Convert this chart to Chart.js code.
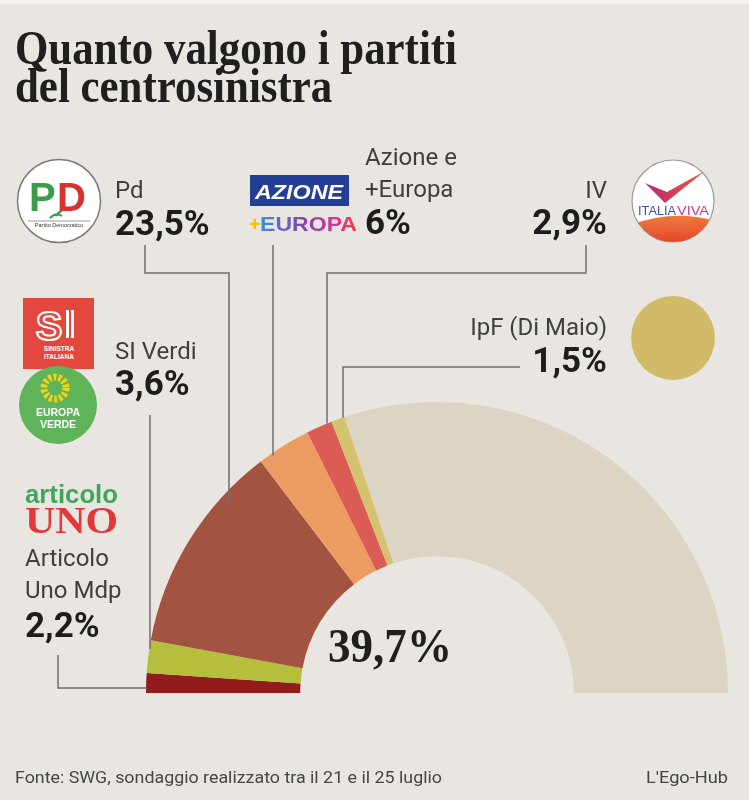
<!DOCTYPE html>
<html lang="it">
<head>
<meta charset="utf-8">
<title>Quanto valgono i partiti del centrosinistra</title>
<script src="https://cdn.jsdelivr.net/npm/chart.js@4.4.1/dist/chart.umd.min.js"></script>
<style>
  html, body { margin: 0; padding: 0; }
  body {
    width: 749px; height: 800px; position: relative; overflow: hidden;
    background: #e9e6e1; font-family: Roboto, "Liberation Sans", sans-serif; color: #3d3d3d;
  }
  #chart { position: absolute; left: 0; top: 0; }
  .topband { position: absolute; left: 0; top: 0; width: 749px; height: 4px; background: #f3f2ef; }
  .fit { position: absolute; white-space: nowrap; transform-origin: left top; }
  .title { font-family: "Liberation Serif", "DejaVu Serif", serif; font-weight: bold; font-size: 48px; line-height: 38px; color: #1f1f1f; }
  .name { position: absolute; font-size: 24px; line-height: 24px; color: #3f3f3f; white-space: nowrap; }
  .pct { position: absolute; font-size: 35px; line-height: 35px; font-weight: bold; color: #1d1d1d; white-space: nowrap; }
  .total { font-family: "Liberation Serif", serif; font-weight: bold; font-size: 49px; line-height: 49px; color: #1f1f1f; }
  .foot { font-size: 16px; line-height: 16px; color: #454545; }
  .logo { position: absolute; }
</style>
</head>
<body>
<div class="topband"></div>
<canvas id="chart" width="749" height="800"></canvas>

<div id="title" class="fit title">Quanto valgono i partiti<br>del centrosinistra</div>
<div id="total" class="fit total"></div>
<div id="source" class="fit foot">Fonte: SWG, sondaggio realizzato tra il 21 e il 25 luglio</div>
<div id="credit" class="fit foot">L'Ego-Hub</div>

<!-- loghi dei partiti -->
<svg class="logo" style="left:16px;top:158px" width="86" height="86" viewBox="0 0 86 86">
  <circle cx="43" cy="43" r="41.5" fill="#fff" stroke="#7a7a7a" stroke-width="1.5"/>
  <text x="13" y="53" font-family="Liberation Sans, sans-serif" font-weight="bold" font-size="40" fill="#3a9c48">P</text>
  <text x="41" y="53" font-family="Liberation Sans, sans-serif" font-weight="bold" font-size="40" fill="#d8322d">D</text>
  <path d="M34 60 q6 -6 12 -2 M40 58 q2 -4 6 -5" stroke="#3a9c48" stroke-width="2" fill="none"/>
  <line x1="12" y1="63" x2="74" y2="63" stroke="#555" stroke-width="0.6"/>
  <text x="43" y="69" text-anchor="middle" font-family="Liberation Sans, sans-serif" font-size="5.5" fill="#333">Partito Democratico</text>
</svg>

<svg class="logo" style="left:249px;top:174px" width="112" height="60" viewBox="0 0 112 60">
  <defs>
    <linearGradient id="eu" x1="0" x2="1" y1="0" y2="0">
      <stop offset="0" stop-color="#3c8fd6"/>
      <stop offset="0.45" stop-color="#8a3fb3"/>
      <stop offset="0.8" stop-color="#e0348c"/>
      <stop offset="1" stop-color="#ef3e3e"/>
    </linearGradient>
  </defs>
  <rect x="1" y="1" width="99" height="31" fill="#233f95"/>
  <text x="50" y="25" text-anchor="middle" font-family="Liberation Sans, sans-serif" font-style="italic" font-weight="bold" font-size="21" fill="#fff" textLength="88" lengthAdjust="spacingAndGlyphs">AZIONE</text>
  <text x="0" y="57" font-family="Liberation Sans, sans-serif" font-weight="bold" font-size="20" fill="#f3c300">+</text>
  <text x="11" y="57" font-family="Liberation Sans, sans-serif" font-weight="bold" font-size="20" fill="url(#eu)" textLength="97" lengthAdjust="spacingAndGlyphs">EUROPA</text>
</svg>

<svg class="logo" style="left:631px;top:159px" width="84" height="84" viewBox="0 0 84 84">
  <defs>
    <clipPath id="ivc"><circle cx="42" cy="42" r="41"/></clipPath>
    <linearGradient id="ivg" x1="0" x2="1" y1="0" y2="0">
      <stop offset="0" stop-color="#b8277d"/>
      <stop offset="1" stop-color="#ec5a2c"/>
    </linearGradient>
    <linearGradient id="ivb" x1="0" x2="0" y1="0" y2="1">
      <stop offset="0" stop-color="#ef7a3a"/>
      <stop offset="1" stop-color="#e2452d"/>
    </linearGradient>
  </defs>
  <circle cx="42" cy="42" r="41" fill="#fff" stroke="#9a9a9a" stroke-width="1.2"/>
  <path d="M14 24 L34 44 L74 12 L36 33 Z" fill="url(#ivg)"/>
  <path d="M0 66 Q42 50 84 62 L84 84 L0 84 Z" fill="url(#ivb)" clip-path="url(#ivc)"/>
  <text x="7" y="56" font-family="Liberation Sans, sans-serif" font-size="12.5" fill="#3b4fa1" textLength="38" lengthAdjust="spacingAndGlyphs">ITALIA</text>
  <text x="46" y="56" font-family="Liberation Sans, sans-serif" font-size="12.5" fill="#c53a8f" textLength="32" lengthAdjust="spacingAndGlyphs">VIVA</text>
</svg>

<svg class="logo" style="left:631px;top:296px" width="84" height="84" viewBox="0 0 84 84">
  <circle cx="42" cy="42" r="42" fill="#d1bb68"/>
</svg>

<svg class="logo" style="left:23px;top:298px" width="72" height="72" viewBox="0 0 72 72">
  <rect x="0" y="0" width="71" height="71" fill="#e3473d"/>
  <text x="26" y="42" text-anchor="middle" font-family="Liberation Sans, sans-serif" font-weight="bold" font-size="40" fill="none" stroke="#fff" stroke-width="2">S</text>
  <rect x="43" y="12" width="3" height="28" fill="#fff"/>
  <rect x="48" y="12" width="3" height="28" fill="#fff"/>
  <text x="36" y="53" text-anchor="middle" font-family="Liberation Sans, sans-serif" font-weight="bold" font-size="6.5" fill="#fff">SINISTRA</text>
  <text x="36" y="61" text-anchor="middle" font-family="Liberation Sans, sans-serif" font-weight="bold" font-size="6.5" fill="#fff">ITALIANA</text>
</svg>

<svg class="logo" style="left:19px;top:366px" width="80" height="80" viewBox="0 0 80 80">
  <circle cx="39" cy="39" r="39" fill="#5fb45a"/>
  <circle cx="36" cy="22" r="11" fill="none" stroke="#f1d218" stroke-width="7" stroke-dasharray="3 2"/>
  <circle cx="36" cy="22" r="5" fill="#5fb45a"/>
  <text x="39" y="50" text-anchor="middle" font-family="Liberation Sans, sans-serif" font-weight="bold" font-size="10.5" fill="#fff">EUROPA</text>
  <text x="39" y="62" text-anchor="middle" font-family="Liberation Sans, sans-serif" font-weight="bold" font-size="10.5" fill="#fff">VERDE</text>
</svg>

<svg class="logo" style="left:24px;top:480px" width="96" height="56" viewBox="0 0 96 56">
  <text x="1" y="23" font-family="Liberation Sans, sans-serif" font-weight="bold" font-size="26" fill="#3ea85a" textLength="93" lengthAdjust="spacingAndGlyphs">articolo</text>
  <text x="1" y="53" font-family="Liberation Serif, serif" font-weight="bold" font-size="38" fill="#e2373b" textLength="93" lengthAdjust="spacingAndGlyphs">UNO</text>
</svg>

<script>
// ===== DATI =====
const parties = ['Articolo Uno Mdp', 'SI Verdi', 'Pd', 'Azione e +Europa', 'IV', 'IpF (Di Maio)'];
const shares = [2.2, 3.6, 23.5, 6, 2.9, 1.5];          // % sondaggio SWG
const partyColors = ['#921c1c', '#b6bf3b', '#a35441', '#ec9c62', '#da5c55', '#d5c26f'];
const restLabel = 'Altri';
const restShare = 60.3;
const restColor = '#dcd5c4';

// righe del nome sopra la percentuale
const nameLines = [['Articolo', 'Uno Mdp'], ['SI Verdi'], ['Pd'], ['Azione e', '+Europa'], ['IV'], ['IpF (Di Maio)']];

// posizione delle etichette (x, baseline prima riga, baseline percentuale)
const labelLayout = [
    { x: 25, align: 'left', nameBase: 566, pctBase: 637 },
    { x: 115, align: 'left', nameBase: 359, pctBase: 395 },
    { x: 115, align: 'left', nameBase: 198, pctBase: 235 },
    { x: 365, align: 'left', nameBase: 165, pctBase: 234 },
    { x: 607, align: 'right', nameBase: 198, pctBase: 234 },
    { x: 607, align: 'right', nameBase: 335, pctBase: 372 }
];

// linee di richiamo: punti fissi, l'ultimo tratto arriva fino allo spicchio
const leaderPaths = [
    { pts: [[58, 655], [58, 688]], dir: 'h', depth: 1 },
    { pts: [[150, 415]], dir: 'v', depth: 4 },
    { pts: [[145, 245], [145, 273], [229, 273]], dir: 'v', depth: 15 },
    { pts: [[273, 245]], dir: 'v', depth: 3 },
    { pts: [[586, 245], [586, 273], [327, 273]], dir: 'v', depth: 0 },
    { pts: [[520, 367], [343, 367]], dir: 'v', depth: 0 }
];

const fmt = v => v.toLocaleString('it-IT', { maximumFractionDigits: 1 }) + '%';

// Roboto: baseline a 0.842em dal top con line-height 1
function addText(cls, text, x, baseline, size, align) {
    const el = document.createElement('div');
    el.className = cls;
    el.textContent = text;
    el.style.top = (baseline - size * 0.842) + 'px';
    if (align === 'right') el.style.right = (749 - x) + 'px';
    else el.style.left = x + 'px';
    document.body.appendChild(el);
}

function fitWidth(el, x, top, target) {
    el.style.left = x + 'px';
    el.style.top = top + 'px';
    const w = el.getBoundingClientRect().width;
    el.style.transform = 'scaleX(' + (target / w) + ')';
}

parties.forEach((p, i) => {
    const L = labelLayout[i];
    nameLines[i].forEach((line, k) => addText('name', line, L.x, L.nameBase + k * 32, 24, L.align));
    addText('pct', fmt(shares[i]), L.x, L.pctBase, 35, L.align);
});

const total = Math.round(shares.reduce((a, b) => a + b, 0) * 10) / 10;
document.getElementById('total').textContent = fmt(total);

// Liberation Serif: ascent 0.891, descent 0.216
fitWidth(document.getElementById('title'), 15, 64 - ((38 - 48 * 1.107) / 2 + 48 * 0.891), 442);
fitWidth(document.getElementById('total'), 328, 662 - 49 * 0.891 + 49 * 0.0535, 124);
fitWidth(document.getElementById('source'), 15, 783 - 16 * 0.842, 427);
fitWidth(document.getElementById('credit'), 646, 783 - 16 * 0.842, 82);

// ===== LINEE DI RICHIAMO =====
const leaderLines = {
    id: 'leaderLines',
    afterDatasetsDraw(chart) {
        const ctx = chart.ctx;
        const arcs = chart.getDatasetMeta(0).data;
        ctx.save();
        ctx.strokeStyle = '#6f6f6f';
        ctx.lineWidth = 1.5;
        leaderPaths.forEach((lp, i) => {
            const a = arcs[i];
            const R = a.outerRadius;
            const last = lp.pts[lp.pts.length - 1];
            let end;
            if (lp.dir === 'v') {
                const dx = last[0] - a.x;
                end = [last[0], a.y - Math.sqrt(R * R - dx * dx) + lp.depth];
            } else {
                const dy = a.y - last[1];
                end = [a.x - Math.sqrt(R * R - dy * dy) + lp.depth, last[1]];
            }
            ctx.beginPath();
            ctx.moveTo(lp.pts[0][0], lp.pts[0][1]);
            lp.pts.slice(1).forEach(p => ctx.lineTo(p[0], p[1]));
            ctx.lineTo(end[0], end[1]);
            ctx.stroke();
        });
        ctx.restore();
    }
};

// ===== GRAFICO =====
new Chart(document.getElementById('chart').getContext('2d'), {
    type: 'doughnut',
    data: {
        labels: [...parties, restLabel],
        datasets: [{
            data: [...shares, restShare],
            backgroundColor: [...partyColors, restColor],
            borderWidth: 0,
            hoverOffset: 0
        }]
    },
    options: {
        responsive: false,
        animation: false,
        rotation: -90,
        circumference: 180,
        cutout: '47%',
        layout: { padding: { left: 146, top: 402, right: 21, bottom: 107 } },
        plugins: {
            legend: { display: false },
            tooltip: { enabled: false }
        }
    },
    plugins: [leaderLines]
});
</script>
</body>
</html>
